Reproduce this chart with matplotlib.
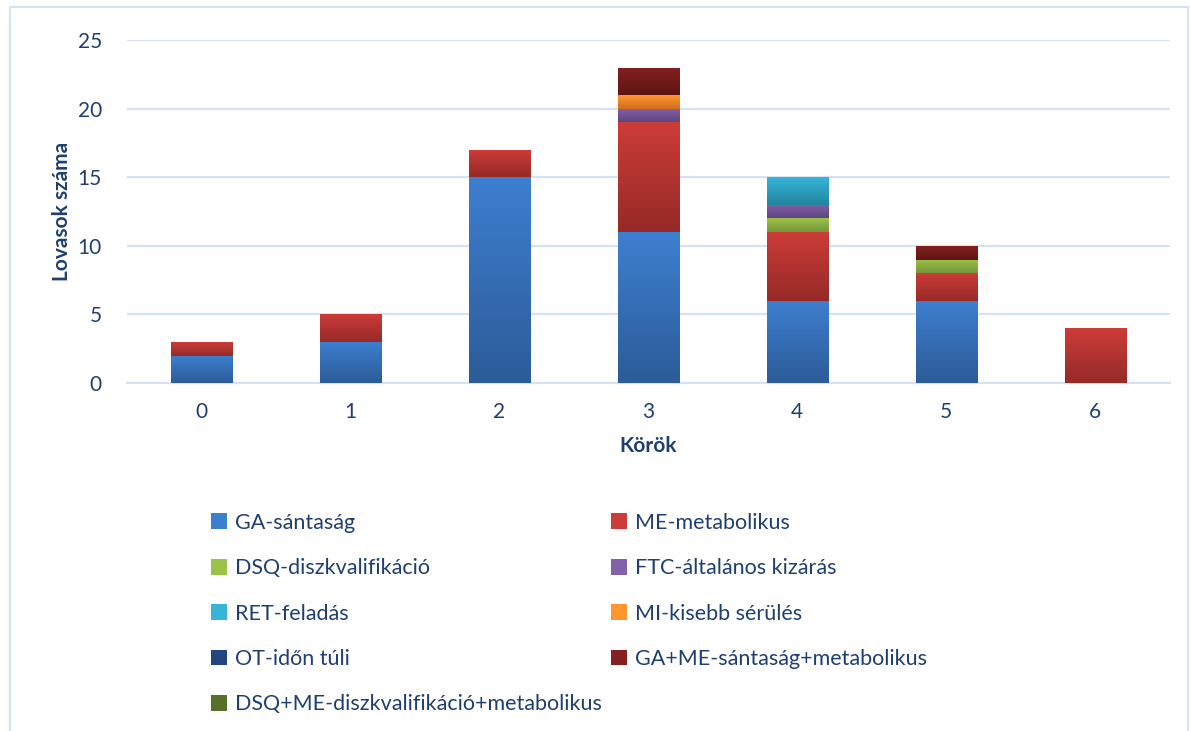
import numpy as np
import matplotlib.pyplot as plt
from matplotlib.patches import Rectangle, Patch
from matplotlib.colors import LinearSegmentedColormap

plt.rcParams['font.family'] = ['Lato', 'DejaVu Sans']

# adatok
korok = [0, 1, 2, 3, 4, 5, 6]
kategoriak = ['GA-sántaság', 'ME-metabolikus', 'DSQ-diszkvalifikáció',
              'FTC-általános kizárás', 'RET-feladás', 'MI-kisebb sérülés',
              'OT-időn túli', 'GA+ME-sántaság+metabolikus',
              'DSQ+ME-diszkvalifikáció+metabolikus']
ga = [2, 3, 15, 11, 6, 6, 0]
me = [1, 2, 2, 8, 5, 2, 4]
dsq = [0, 0, 0, 0, 1, 1, 0]
ftc = [0, 0, 0, 1, 1, 0, 0]
ret = [0, 0, 0, 0, 2, 0, 0]
mi = [0, 0, 0, 1, 0, 0, 0]
ot = [0, 0, 0, 0, 0, 0, 0]
ga_me = [0, 0, 0, 2, 0, 1, 0]
dsq_me = [0, 0, 0, 0, 0, 0, 0]
sorozatok = [ga, me, dsq, ftc, ret, mi, ot, ga_me, dsq_me]

# szinek (felso, also) a szinatmenethez
szinek = [('#3d7fcf', '#2c5c99'), ('#cc3c38', '#962a27'),
          ('#9cc247', '#76963a'), ('#8460a8', '#5e4580'),
          ('#36b5d8', '#22859f'), ('#ff9630', '#d06e1e'),
          ('#24467e', '#17305a'), ('#84201f', '#5e1515'),
          ('#56702a', '#3e521d')]
szoveg_szin = '#1f3f6e'

fig = plt.figure(figsize=(11.9, 7.31), dpi=100)
ax = fig.add_axes([0.1067, 0.476, 0.8763, 0.469])

alj = np.zeros(len(korok))
for ertekek, (felso, also) in zip(sorozatok, szinek):
    cmap = LinearSegmentedColormap.from_list('g', [also, felso])
    bars = ax.bar(korok, ertekek, width=0.41, bottom=alj, color=felso,
                  linewidth=0, zorder=3)
    for b in bars:
        if b.get_height() <= 0:
            continue
        x0, y0 = b.get_x(), b.get_y()
        w, h = b.get_width(), b.get_height()
        grad = np.linspace(0, 1, 64).reshape(-1, 1)
        im = ax.imshow(grad, cmap=cmap, origin='lower', aspect='auto',
                       extent=[x0, x0 + w, y0, y0 + h], zorder=4)
        im.set_clip_path(b)
    alj += np.array(ertekek)

ax.set_xlim(-0.5, 6.5)
ax.set_ylim(0, 25)
ax.set_yticks([0, 5, 10, 15, 20, 25])
ax.set_xticks(korok)
ax.grid(axis='y', color='#d6e2f2', linewidth=1.6, zorder=0)
ax.set_axisbelow(True)
for s in ['top', 'right', 'left']:
    ax.spines[s].set_visible(False)
ax.spines['bottom'].set_color('#d6e2f2')
ax.spines['bottom'].set_linewidth(1.6)
ax.tick_params(length=0, labelsize=15, colors=szoveg_szin)
ax.tick_params(axis='x', pad=14)
ax.tick_params(axis='y', pad=18)
ax.set_xlabel('Körök', fontsize=15, fontweight='bold', color=szoveg_szin,
              labelpad=10)
ax.set_ylabel('Lovasok száma', fontsize=15, fontweight='bold',
              color=szoveg_szin, labelpad=4)

# jelmagyarazat soronkent kitoltve
sorrend = [0, 2, 4, 6, 8, 1, 3, 5, 7]
handles = [Patch(facecolor=szinek[i][0], edgecolor='none') for i in sorrend]
labels = [kategoriak[i] for i in sorrend]
leg = fig.legend(handles, labels, ncol=2, loc='upper left',
                 bbox_to_anchor=(0.161, 0.325), frameon=False, fontsize=15.5,
                 handlelength=0.75, handleheight=0.75, handletextpad=0.35,
                 labelspacing=1.18, columnspacing=0.45, labelcolor=szoveg_szin)

fig.patches.append(Rectangle((0.008, -0.01), 0.99, 1.0, transform=fig.transFigure,
                             fill=False, edgecolor='#d6e2f2', linewidth=1.5))

plt.savefig('out.png', dpi=100)
